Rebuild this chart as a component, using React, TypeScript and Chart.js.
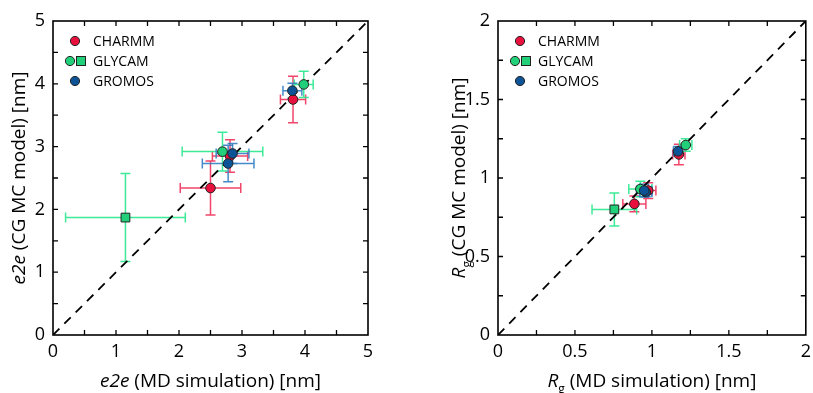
import React, { useEffect, useRef } from "react";
import { Chart, registerables } from "chart.js";

Chart.register(...registerables);

// ---------- data: end-to-end distance (e2e) ----------
const charmmE2eX = [2.5, 2.81, 3.81];
const charmmE2eY = [2.34, 2.85, 3.75];
const charmmE2eXErr = [0.48, 0.28, 0.2];
const charmmE2eYErr = [0.43, 0.26, 0.37];

const glycamE2eX = [2.69, 3.98];
const glycamE2eY = [2.92, 3.99];
const glycamE2eXErr = [0.64, 0.15];
const glycamE2eYErr = [0.31, 0.21];

const glycamSqE2eX = [1.15];
const glycamSqE2eY = [1.87];
const glycamSqE2eXErr = [0.95];
const glycamSqE2eYErr = [0.7];

const gromosE2eX = [2.85, 2.78, 3.8];
const gromosE2eY = [2.89, 2.73, 3.89];
const gromosE2eXErr = [0.26, 0.41, 0.15];
const gromosE2eYErr = [0.16, 0.29, 0.12];

const e2eTicks = [0, 1, 2, 3, 4, 5];

// ---------- data: radius of gyration (Rg) ----------
const charmmRgX = [0.886, 0.976, 1.175];
const charmmRgY = [0.835, 0.92, 1.15];
const charmmRgXErr = [0.075, 0.05, 0.04];
const charmmRgYErr = [0.05, 0.05, 0.065];

const glycamRgX = [0.925, 1.22];
const glycamRgY = [0.93, 1.21];
const glycamRgXErr = [0.075, 0.04];
const glycamRgYErr = [0.05, 0.04];

const glycamSqRgX = [0.756];
const glycamSqRgY = [0.8];
const glycamSqRgXErr = [0.145];
const glycamSqRgYErr = [0.105];

const gromosRgX = [0.96, 0.95, 1.17];
const gromosRgY = [0.91, 0.92, 1.17];
const gromosRgXErr = [0.04, 0.05, 0.03];
const gromosRgYErr = [0.03, 0.04, 0.03];

const rgTicks = [0, 0.5, 1, 1.5, 2];

const legendLabels = ["CHARMM", "GLYCAM", "GROMOS"];

// ---------- styles ----------
const FONT = "'Open Sans', 'Liberation Sans', sans-serif";
const RED = "#e8103c";
const RED_BAR = "rgba(240,50,90,0.9)";
const GREEN = "#22d07a";
const GREEN_BAR = "rgba(40,232,140,0.9)";
const BLUE = "#0d5496";
const BLUE_BAR = "rgba(50,125,195,0.9)";
const EDGE = "#222";

type Part = { t: string; italic?: boolean; sub?: boolean };

function drawRich(ctx: CanvasRenderingContext2D, parts: Part[], cx: number, cy: number, rot: boolean, size: number) {
  ctx.save();
  ctx.translate(cx, cy);
  if (rot) ctx.rotate(-Math.PI / 2);
  const fontFor = (p: Part) => `${p.italic ? "italic " : ""}${p.sub ? Math.round(size * 0.62) : size}px ${FONT}`;
  const widths = parts.map((p) => {
    ctx.font = fontFor(p);
    return ctx.measureText(p.t).width;
  });
  const total = widths.reduce((a, b) => a + b, 0);
  let x = -total / 2;
  ctx.textBaseline = "middle";
  ctx.textAlign = "left";
  ctx.fillStyle = "#000";
  parts.forEach((p, i) => {
    ctx.font = fontFor(p);
    ctx.fillText(p.t, x, p.sub ? size * 0.38 : 0);
    x += widths[i];
  });
  ctx.restore();
}

type Series = {
  xs: number[];
  ys: number[];
  xe: number[];
  ye: number[];
  fill: string;
  bar: string;
  style: string;
  radius: number;
  order: number;
};

type Cfg = {
  max: number;
  ticks: number[];
  minorStep: number;
  yAxisWidth: number;
  padRight: number;
  series: Series[];
  xTitle: Part[];
  yTitle: Part[];
  yTitleX: number;
};

function makeChart(canvas: HTMLCanvasElement, cfg: Cfg) {
  const errorBars = {
    id: "errorBars",
    beforeDatasetsDraw(chart: any) {
      const ctx = chart.ctx;
      const xs = chart.scales.x;
      const ys = chart.scales.y;
      ctx.save();
      ctx.lineWidth = 1.5;
      const cap = 5;
      cfg.series.forEach((s) => {
        ctx.strokeStyle = s.bar;
        s.xs.forEach((xv, i) => {
          const yv = s.ys[i];
          const px = xs.getPixelForValue(xv);
          const py = ys.getPixelForValue(yv);
          const x0 = xs.getPixelForValue(xv - s.xe[i]);
          const x1 = xs.getPixelForValue(xv + s.xe[i]);
          const y0 = ys.getPixelForValue(yv - s.ye[i]);
          const y1 = ys.getPixelForValue(yv + s.ye[i]);
          ctx.beginPath();
          ctx.moveTo(x0, py);
          ctx.lineTo(x1, py);
          ctx.moveTo(x0, py - cap);
          ctx.lineTo(x0, py + cap);
          ctx.moveTo(x1, py - cap);
          ctx.lineTo(x1, py + cap);
          ctx.moveTo(px, y0);
          ctx.lineTo(px, y1);
          ctx.moveTo(px - cap, y0);
          ctx.lineTo(px + cap, y0);
          ctx.moveTo(px - cap, y1);
          ctx.lineTo(px + cap, y1);
          ctx.stroke();
        });
      });
      ctx.restore();
    },
  };

  const frame = {
    id: "frame",
    afterDraw(chart: any) {
      const ctx = chart.ctx;
      const a = chart.chartArea;
      const xs = chart.scales.x;
      const ys = chart.scales.y;
      ctx.save();
      ctx.strokeStyle = "#000";
      ctx.lineWidth = 1.6;
      ctx.strokeRect(a.left, a.top, a.right - a.left, a.bottom - a.top);
      ctx.lineWidth = 1.3;
      const tl = 5;
      ctx.beginPath();
      for (let v = cfg.minorStep; v < cfg.max - 1e-9; v += cfg.minorStep) {
        const px = xs.getPixelForValue(v);
        const py = ys.getPixelForValue(v);
        ctx.moveTo(px, a.bottom);
        ctx.lineTo(px, a.bottom - tl);
        ctx.moveTo(px, a.top);
        ctx.lineTo(px, a.top + tl);
        ctx.moveTo(a.left, py);
        ctx.lineTo(a.left + tl, py);
        ctx.moveTo(a.right, py);
        ctx.lineTo(a.right - tl, py);
      }
      ctx.stroke();

      // legend
      const lx = a.left + 22;
      const ly = a.top + 20;
      const gap = 20;
      const dot = (x: number, y: number, c: string) => {
        ctx.beginPath();
        ctx.arc(x, y, 4.6, 0, Math.PI * 2);
        ctx.fillStyle = c;
        ctx.fill();
        ctx.lineWidth = 1;
        ctx.strokeStyle = EDGE;
        ctx.stroke();
      };
      dot(lx, ly, RED);
      dot(lx - 5, ly + gap, GREEN);
      ctx.fillStyle = GREEN;
      ctx.fillRect(lx + 1.5, ly + gap - 4.5, 9, 9);
      ctx.lineWidth = 1;
      ctx.strokeStyle = EDGE;
      ctx.strokeRect(lx + 1.5, ly + gap - 4.5, 9, 9);
      dot(lx, ly + 2 * gap, BLUE);
      ctx.fillStyle = "#000";
      ctx.font = `14px ${FONT}`;
      ctx.textBaseline = "middle";
      ctx.textAlign = "left";
      legendLabels.forEach((t, i) => ctx.fillText(t, lx + 18, ly + i * gap + 1));

      // axis titles
      drawRich(ctx, cfg.xTitle, (a.left + a.right) / 2, 382, false, 19);
      drawRich(ctx, cfg.yTitle, cfg.yTitleX, (a.top + a.bottom) / 2, true, 19);
      ctx.restore();
    },
  };

  const datasets: any[] = cfg.series.map((s) => ({
    type: "scatter",
    data: s.xs.map((x, i) => ({ x, y: s.ys[i] })),
    backgroundColor: s.fill,
    borderColor: EDGE,
    borderWidth: 1,
    pointStyle: s.style,
    pointRadius: s.radius,
    order: s.order,
  }));
  datasets.push({
    type: "line",
    data: [
      { x: 0, y: 0 },
      { x: cfg.max, y: cfg.max },
    ],
    borderColor: "#000",
    borderWidth: 1.8,
    borderDash: [9, 7],
    pointRadius: 0,
    fill: false,
    order: 10,
  });

  const tickFont = { family: FONT, size: 18 };
  const fmt = (v: any) => String(Number(v));

  return new Chart(canvas, {
    type: "scatter",
    data: { datasets },
    options: {
      animation: false,
      responsive: false,
      devicePixelRatio: 1,
      layout: { padding: { top: 21, right: cfg.padRight, left: 0, bottom: 0 } },
      plugins: { legend: { display: false }, tooltip: { enabled: false } },
      scales: {
        x: {
          type: "linear",
          min: 0,
          max: cfg.max,
          grid: { display: false, drawTicks: false },
          border: { display: false },
          ticks: { font: tickFont, color: "#000", padding: 6, autoSkip: false, maxRotation: 0, callback: fmt },
          afterBuildTicks: (s: any) => {
            s.ticks = cfg.ticks.map((v) => ({ value: v }));
          },
          afterFit: (s: any) => {
            s.height = 58;
            s.paddingLeft = 0;
            s.paddingRight = 0;
          },
        },
        y: {
          type: "linear",
          min: 0,
          max: cfg.max,
          grid: { display: false, drawTicks: false },
          border: { display: false },
          ticks: { font: tickFont, color: "#000", padding: 8, autoSkip: false, callback: fmt },
          afterBuildTicks: (s: any) => {
            s.ticks = cfg.ticks.map((v) => ({ value: v }));
          },
          afterFit: (s: any) => {
            s.width = cfg.yAxisWidth;
            s.paddingTop = 0;
            s.paddingBottom = 0;
          },
        },
      },
    } as any,
    plugins: [errorBars, frame],
  });
}

function series(xs: number[], ys: number[], xe: number[], ye: number[], fill: string, bar: string, order: number, style = "circle"): Series {
  return { xs, ys, xe, ye, fill, bar, style, order, radius: style === "rect" ? 6.2 : 4.8 };
}

export default function App() {
  const leftRef = useRef<HTMLCanvasElement>(null);
  const rightRef = useRef<HTMLCanvasElement>(null);

  useEffect(() => {
    const c1 = makeChart(leftRef.current!, {
      max: 5,
      ticks: e2eTicks,
      minorStep: 0.5,
      yAxisWidth: 53,
      padRight: 406 - 368,
      series: [
        series(charmmE2eX, charmmE2eY, charmmE2eXErr, charmmE2eYErr, RED, RED_BAR, 3),
        series(glycamE2eX, glycamE2eY, glycamE2eXErr, glycamE2eYErr, GREEN, GREEN_BAR, 2),
        series(glycamSqE2eX, glycamSqE2eY, glycamSqE2eXErr, glycamSqE2eYErr, GREEN, GREEN_BAR, 2, "rect"),
        series(gromosE2eX, gromosE2eY, gromosE2eXErr, gromosE2eYErr, BLUE, BLUE_BAR, 1),
      ],
      xTitle: [{ t: "e2e", italic: true }, { t: " (MD simulation) [nm]" }],
      yTitle: [{ t: "e2e", italic: true }, { t: " (CG MC model) [nm]" }],
      yTitleX: 20,
    });
    const c2 = makeChart(rightRef.current!, {
      max: 2,
      ticks: rgTicks,
      minorStep: 0.25,
      yAxisWidth: 92,
      padRight: 3,
      series: [
        series(charmmRgX, charmmRgY, charmmRgXErr, charmmRgYErr, RED, RED_BAR, 3),
        series(glycamRgX, glycamRgY, glycamRgXErr, glycamRgYErr, GREEN, GREEN_BAR, 2),
        series(glycamSqRgX, glycamSqRgY, glycamSqRgXErr, glycamSqRgYErr, GREEN, GREEN_BAR, 2, "rect"),
        series(gromosRgX, gromosRgY, gromosRgXErr, gromosRgYErr, BLUE, BLUE_BAR, 1),
      ],
      xTitle: [{ t: "R", italic: true }, { t: "g", sub: true }, { t: " (MD simulation) [nm]" }],
      yTitle: [{ t: "R", italic: true }, { t: "g", sub: true }, { t: " (CG MC model) [nm]" }],
      yTitleX: 54,
    });
    return () => {
      c1.destroy();
      c2.destroy();
    };
  }, []);

  return (
    <div style={{ position: "fixed", left: 0, top: 0, width: 813, height: 393, background: "#fff" }}>
      <canvas ref={leftRef} width={406} height={393} style={{ position: "absolute", left: 0, top: 0 }} />
      <canvas ref={rightRef} width={407} height={393} style={{ position: "absolute", left: 406, top: 0 }} />
    </div>
  );
}
